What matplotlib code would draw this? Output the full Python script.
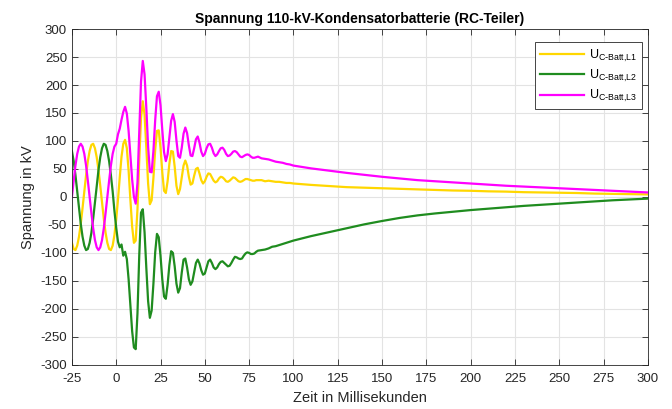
import numpy as np
import matplotlib
matplotlib.use("Agg")
import matplotlib.pyplot as plt

plt.rcParams['font.family'] = ['Liberation Sans', 'DejaVu Sans']
plt.rcParams['axes.unicode_minus'] = False

# sample times in ms: 1 ms steps, then 2 ms, then 10 ms
t = np.concatenate([np.arange(-25, 81, 1), np.arange(82, 101, 2), np.arange(110, 301, 10)])

# U_C-Batt,L1 (yellow)
u_l1 = [
    -82, -93, -95, -87, -71, -48, -20, 10, 39, 64, 82, 93, 95, 87, 71, 48, 20, -10, -39, -64,
    -82, -93, -95, -87, -68, -40, -5, 35, 72, 95, 102, 87, 47, -5, -53, -82, -78, -22, 65, 141,
    171, 147, 88, 24, -13, -6, 34, 84, 118, 119, 88, 44, 11, 7, 28, 59, 82, 81, 54, 20,
    5, 14, 35, 56, 65, 56, 36, 22, 24, 38, 50, 52, 42, 30, 24, 28, 36, 42, 41, 35,
    29, 26, 28, 33, 36, 35, 32, 28, 27, 29, 32, 35, 34, 31, 28, 27, 28, 30, 32, 32,
    31, 30, 29, 29, 30, 30,
    30, 28, 29, 28, 27, 27, 26, 25, 25, 24,
    21.5, 19.5, 17.5, 16.5, 15.5, 14.5, 13.5, 12.5, 11.5, 11, 10, 9.5, 8.5, 8, 7.5, 7, 6, 5.5, 5, 4.5,
]

# U_C-Batt,L2 (green)
u_l2 = [
    82, 64, 39, 10, -20, -48, -71, -87, -95, -93, -82, -64, -39, -10, 20, 48, 71, 87, 95, 93,
    82, 64, 39, 10, -25, -55, -80, -90, -85, -105, -98, -111, -147, -194, -240, -269, -272, -208, -105, -28,
    -22, -63, -127, -186, -216, -203, -155, -99, -66, -72, -105, -147, -178, -182, -157, -122, -97, -100, -124, -155,
    -171, -163, -135, -112, -110, -126, -147, -157, -151, -134, -118, -112, -119, -131, -139, -137, -126, -115, -112, -118,
    -126, -129, -126, -120, -116, -115, -118, -121, -124, -123, -118, -112, -107, -108, -110, -111, -110, -105, -101, -99,
    -100, -102, -102, -101, -98, -96,
    -95, -94, -92, -89, -88, -86, -84, -82, -80, -78,
    -70, -63, -56, -49, -43, -37.5, -33, -29.5, -26.5, -23.5, -21, -18.5, -16, -14, -12, -10, -8, -6, -4.5, -3,
]

# U_C-Batt,L3 (magenta)
u_l3 = [
    0, 29, 56, 77, 90, 95, 90, 77, 56, 29, 0, -29, -56, -77, -90, -95, -90, -77, -56, -29,
    0, 29, 56, 77, 90, 95, 112, 122, 138, 152, 161, 149, 118, 75, 31, 0, -12, 25, 116, 206,
    243, 219, 159, 90, 45, 44, 82, 137, 180, 188, 164, 120, 80, 64, 76, 106, 136, 148, 134, 101,
    73, 70, 88, 113, 124, 114, 92, 74, 73, 87, 103, 108, 97, 81, 73, 77, 87, 94, 95, 88,
    78, 73, 76, 82, 87, 88, 84, 77, 73, 74, 77, 81, 82, 80, 76, 72, 71, 73, 75, 76,
    75, 72, 70, 70, 71, 72,
    69, 68, 67, 65, 63, 62, 61, 59, 58, 56,
    51, 47, 43, 39.5, 36, 33, 30, 28, 26, 24, 22, 20, 18.5, 17, 15.5, 14, 12.5, 11, 9.5, 8,
]

labels = [r'U$_{\mathregular{C\text{-}Batt{,}L1}}$',
          r'U$_{\mathregular{C\text{-}Batt{,}L2}}$',
          r'U$_{\mathregular{C\text{-}Batt{,}L3}}$']
colors = ['#ffd700', '#1f8c1f', '#ff00ff']

xticks = np.arange(-25, 301, 25)
yticks = np.arange(-300, 301, 50)

fig = plt.figure(figsize=(6.72, 4.09), dpi=100)
ax = fig.add_axes([0.107, 0.108, 0.857, 0.821])

for vals, lab, col in zip([u_l1, u_l2, u_l3], labels, colors):
    ax.plot(t, vals, color=col, linewidth=1.6, label=lab)

ax.set_xlim(-25, 300)
ax.set_ylim(-300, 300)
ax.set_xticks(xticks)
ax.set_yticks(yticks)
ax.grid(True, color='#e3e3e3', linewidth=0.8)
ax.set_axisbelow(True)
ax.tick_params(direction='in', top=True, right=True, length=4, labelsize=9.5,
               colors='#262626', width=0.6)
ax.tick_params(axis='x', pad=6)
for sp in ax.spines.values():
    sp.set_color('#262626')
    sp.set_linewidth(0.6)

ax.set_title('Spannung 110-kV-Kondensatorbatterie (RC-Teiler)', fontsize=10,
             fontweight='bold', pad=4)
ax.set_xlabel('Zeit in Millisekunden', fontsize=10.5, color='#262626', labelpad=4)
ax.set_ylabel('Spannung in kV', fontsize=10.5, color='#262626', labelpad=4)

leg = ax.legend(loc='upper right', fontsize=9, frameon=True, fancybox=False,
                edgecolor='#262626', framealpha=1, handlelength=3.5, handletextpad=0.4,
                borderpad=0.4, labelspacing=0.35, borderaxespad=0,
                bbox_to_anchor=(0.99, 0.96))
leg.get_frame().set_linewidth(0.6)

fig.savefig('out.png', dpi=100)
